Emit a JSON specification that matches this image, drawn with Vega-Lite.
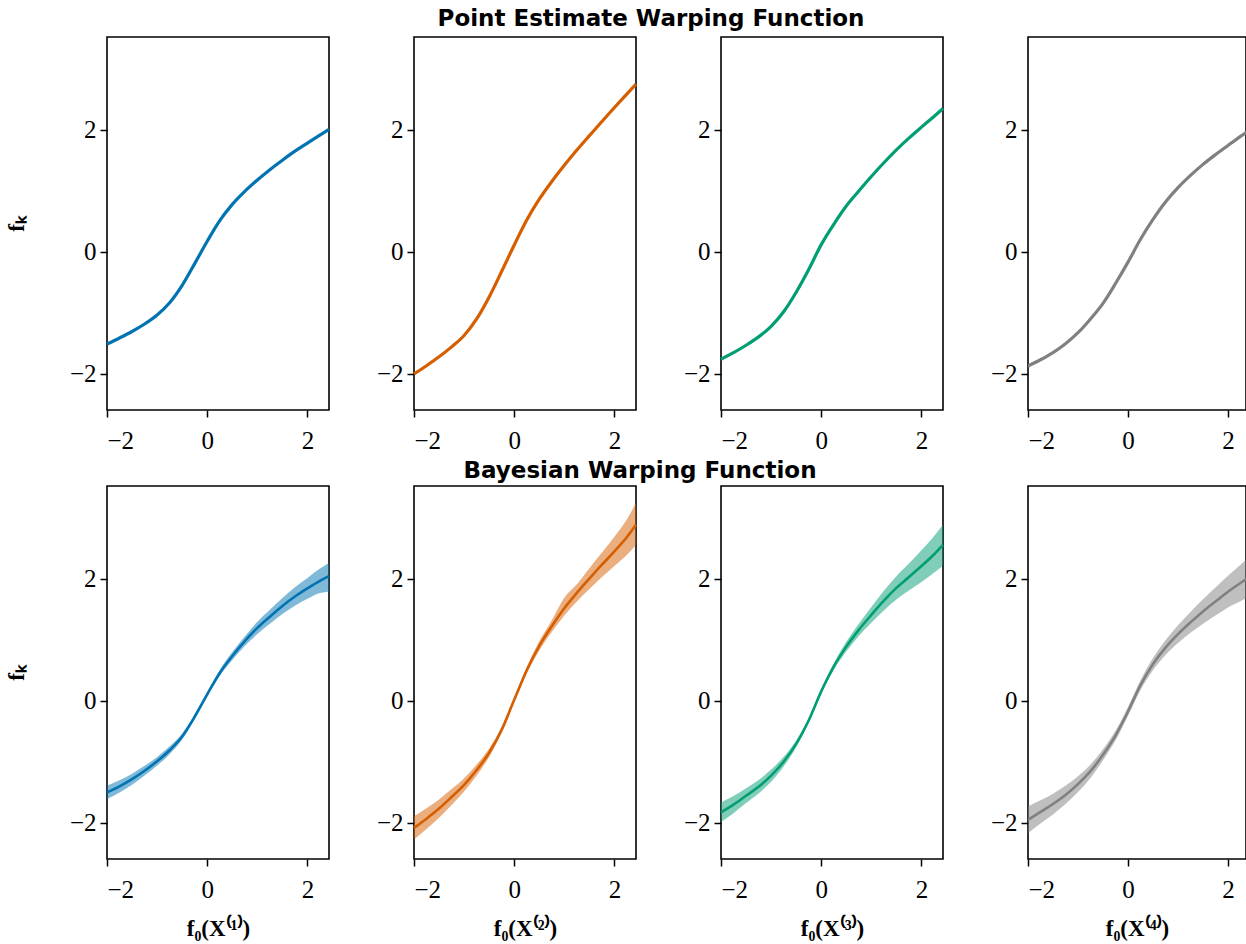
{
  "$schema": "https://vega.github.io/schema/vega-lite/v6.json",
  "background": "white",
  "padding": {"left": 4, "top": 7, "right": 0, "bottom": 0},
  "autosize": {"type": "pad"},
  "columns": 4,
  "spacing": {"row": 76, "column": 85},
  "bounds": "flush",
  "config": {
    "view": {"stroke": "black", "strokeWidth": 1.6},
    "axis": {
      "domain": false, "grid": false,
      "tickColor": "black", "tickWidth": 1.5, "tickSize": 7,
      "labelFont": "Liberation Serif", "labelFontSize": 25, "labelColor": "black",
      "titleFont": "Liberation Serif", "titleFontSize": 23, "titleFontWeight": "bold", "titleColor": "black"
    },
    "axisX": {"labelPadding": 11, "titlePadding": 15},
    "axisY": {"labelPadding": 4, "titlePadding": 41},
    "title": {"font": "DejaVu Sans", "fontSize": 23, "fontWeight": "bold", "color": "black"}
  },
  "datasets": {
    "point": [
      {"k": 1, "x": -2.0, "y": -1.51}, {"k": 1, "x": -1.75, "y": -1.411}, {"k": 1, "x": -1.5, "y": -1.305},
      {"k": 1, "x": -1.25, "y": -1.183}, {"k": 1, "x": -1.0, "y": -1.035}, {"k": 1, "x": -0.75, "y": -0.835},
      {"k": 1, "x": -0.5, "y": -0.55}, {"k": 1, "x": -0.25, "y": -0.194}, {"k": 1, "x": 0.0, "y": 0.172},
      {"k": 1, "x": 0.25, "y": 0.509}, {"k": 1, "x": 0.5, "y": 0.776}, {"k": 1, "x": 0.75, "y": 0.989},
      {"k": 1, "x": 1.0, "y": 1.174}, {"k": 1, "x": 1.25, "y": 1.344}, {"k": 1, "x": 1.5, "y": 1.499},
      {"k": 1, "x": 1.75, "y": 1.646}, {"k": 1, "x": 2.0, "y": 1.779}, {"k": 1, "x": 2.2, "y": 1.885},
      {"k": 1, "x": 2.43, "y": 2.003},

      {"k": 2, "x": -2.0, "y": -2.0}, {"k": 2, "x": -1.75, "y": -1.865}, {"k": 2, "x": -1.5, "y": -1.72},
      {"k": 2, "x": -1.25, "y": -1.557}, {"k": 2, "x": -1.0, "y": -1.37}, {"k": 2, "x": -0.75, "y": -1.1},
      {"k": 2, "x": -0.5, "y": -0.74}, {"k": 2, "x": -0.25, "y": -0.32}, {"k": 2, "x": 0.0, "y": 0.11},
      {"k": 2, "x": 0.25, "y": 0.52}, {"k": 2, "x": 0.5, "y": 0.86}, {"k": 2, "x": 0.75, "y": 1.15},
      {"k": 2, "x": 1.0, "y": 1.415}, {"k": 2, "x": 1.25, "y": 1.665}, {"k": 2, "x": 1.5, "y": 1.9},
      {"k": 2, "x": 1.75, "y": 2.133}, {"k": 2, "x": 2.0, "y": 2.362}, {"k": 2, "x": 2.25, "y": 2.585},
      {"k": 2, "x": 2.43, "y": 2.742},

      {"k": 3, "x": -2.0, "y": -1.76}, {"k": 3, "x": -1.75, "y": -1.652}, {"k": 3, "x": -1.5, "y": -1.53},
      {"k": 3, "x": -1.25, "y": -1.393}, {"k": 3, "x": -1.0, "y": -1.22}, {"k": 3, "x": -0.75, "y": -0.982},
      {"k": 3, "x": -0.5, "y": -0.662}, {"k": 3, "x": -0.25, "y": -0.29}, {"k": 3, "x": 0.0, "y": 0.117},
      {"k": 3, "x": 0.25, "y": 0.45}, {"k": 3, "x": 0.5, "y": 0.75}, {"k": 3, "x": 0.75, "y": 0.995},
      {"k": 3, "x": 1.0, "y": 1.232}, {"k": 3, "x": 1.25, "y": 1.457}, {"k": 3, "x": 1.5, "y": 1.668},
      {"k": 3, "x": 1.75, "y": 1.86}, {"k": 3, "x": 2.0, "y": 2.04}, {"k": 3, "x": 2.25, "y": 2.215},
      {"k": 3, "x": 2.43, "y": 2.345},

      {"k": 4, "x": -2.0, "y": -1.87}, {"k": 4, "x": -1.75, "y": -1.768}, {"k": 4, "x": -1.5, "y": -1.65},
      {"k": 4, "x": -1.25, "y": -1.505}, {"k": 4, "x": -1.0, "y": -1.325}, {"k": 4, "x": -0.75, "y": -1.1},
      {"k": 4, "x": -0.5, "y": -0.845}, {"k": 4, "x": -0.25, "y": -0.52}, {"k": 4, "x": 0.0, "y": -0.17},
      {"k": 4, "x": 0.25, "y": 0.205}, {"k": 4, "x": 0.5, "y": 0.53}, {"k": 4, "x": 0.75, "y": 0.815},
      {"k": 4, "x": 1.0, "y": 1.05}, {"k": 4, "x": 1.25, "y": 1.25}, {"k": 4, "x": 1.5, "y": 1.43},
      {"k": 4, "x": 1.75, "y": 1.59}, {"k": 4, "x": 2.0, "y": 1.74}, {"k": 4, "x": 2.25, "y": 1.888},
      {"k": 4, "x": 2.43, "y": 1.99}
    ],
    "bayes": [
      {"k": 1, "x": -2.0, "m": -1.5, "lo": -1.61, "hi": -1.39},
      {"k": 1, "x": -1.75, "m": -1.4, "lo": -1.5, "hi": -1.3},
      {"k": 1, "x": -1.5, "m": -1.283, "lo": -1.373, "hi": -1.193},
      {"k": 1, "x": -1.25, "m": -1.145, "lo": -1.225, "hi": -1.065},
      {"k": 1, "x": -1.0, "m": -0.99, "lo": -1.06, "hi": -0.92},
      {"k": 1, "x": -0.75, "m": -0.81, "lo": -0.875, "hi": -0.745},
      {"k": 1, "x": -0.5, "m": -0.585, "lo": -0.635, "hi": -0.535},
      {"k": 1, "x": -0.25, "m": -0.262, "lo": -0.302, "hi": -0.222},
      {"k": 1, "x": 0.0, "m": 0.105, "lo": 0.065, "hi": 0.145},
      {"k": 1, "x": 0.25, "m": 0.455, "lo": 0.405, "hi": 0.505},
      {"k": 1, "x": 0.5, "m": 0.732, "lo": 0.667, "hi": 0.797},
      {"k": 1, "x": 0.75, "m": 0.975, "lo": 0.895, "hi": 1.055},
      {"k": 1, "x": 1.0, "m": 1.193, "lo": 1.093, "hi": 1.293},
      {"k": 1, "x": 1.25, "m": 1.376, "lo": 1.261, "hi": 1.491},
      {"k": 1, "x": 1.5, "m": 1.551, "lo": 1.421, "hi": 1.681},
      {"k": 1, "x": 1.75, "m": 1.706, "lo": 1.556, "hi": 1.856},
      {"k": 1, "x": 2.0, "m": 1.839, "lo": 1.669, "hi": 2.009},
      {"k": 1, "x": 2.25, "m": 1.963, "lo": 1.763, "hi": 2.163},
      {"k": 1, "x": 2.43, "m": 2.04, "lo": 1.79, "hi": 2.26},

      {"k": 2, "x": -2.0, "m": -2.08, "lo": -2.27, "hi": -1.89},
      {"k": 2, "x": -1.75, "m": -1.93, "lo": -2.1, "hi": -1.76},
      {"k": 2, "x": -1.5, "m": -1.765, "lo": -1.915, "hi": -1.615},
      {"k": 2, "x": -1.25, "m": -1.576, "lo": -1.706, "hi": -1.446},
      {"k": 2, "x": -1.0, "m": -1.377, "lo": -1.487, "hi": -1.267},
      {"k": 2, "x": -0.75, "m": -1.134, "lo": -1.224, "hi": -1.044},
      {"k": 2, "x": -0.5, "m": -0.85, "lo": -0.92, "hi": -0.78},
      {"k": 2, "x": -0.25, "m": -0.475, "lo": -0.525, "hi": -0.425},
      {"k": 2, "x": 0.0, "m": 0.015, "lo": -0.025, "hi": 0.055},
      {"k": 2, "x": 0.25, "m": 0.499, "lo": 0.444, "hi": 0.554},
      {"k": 2, "x": 0.5, "m": 0.898, "lo": 0.823, "hi": 0.973},
      {"k": 2, "x": 0.75, "m": 1.221, "lo": 1.126, "hi": 1.316},
      {"k": 2, "x": 1.0, "m": 1.515, "lo": 1.395, "hi": 1.685},
      {"k": 2, "x": 1.25, "m": 1.766, "lo": 1.626, "hi": 1.906},
      {"k": 2, "x": 1.5, "m": 2.0, "lo": 1.83, "hi": 2.17},
      {"k": 2, "x": 1.75, "m": 2.227, "lo": 2.027, "hi": 2.427},
      {"k": 2, "x": 2.0, "m": 2.445, "lo": 2.205, "hi": 2.685},
      {"k": 2, "x": 2.25, "m": 2.68, "lo": 2.39, "hi": 2.97},
      {"k": 2, "x": 2.43, "m": 2.88, "lo": 2.55, "hi": 3.24},

      {"k": 3, "x": -2.0, "m": -1.826, "lo": -1.986, "hi": -1.666},
      {"k": 3, "x": -1.75, "m": -1.7, "lo": -1.84, "hi": -1.56},
      {"k": 3, "x": -1.5, "m": -1.554, "lo": -1.674, "hi": -1.434},
      {"k": 3, "x": -1.25, "m": -1.408, "lo": -1.518, "hi": -1.298},
      {"k": 3, "x": -1.0, "m": -1.226, "lo": -1.326, "hi": -1.126},
      {"k": 3, "x": -0.75, "m": -0.998, "lo": -1.078, "hi": -0.918},
      {"k": 3, "x": -0.5, "m": -0.705, "lo": -0.76, "hi": -0.65},
      {"k": 3, "x": -0.25, "m": -0.323, "lo": -0.363, "hi": -0.283},
      {"k": 3, "x": 0.0, "m": 0.154, "lo": 0.114, "hi": 0.194},
      {"k": 3, "x": 0.25, "m": 0.56, "lo": 0.505, "hi": 0.615},
      {"k": 3, "x": 0.5, "m": 0.886, "lo": 0.806, "hi": 0.966},
      {"k": 3, "x": 0.75, "m": 1.161, "lo": 1.061, "hi": 1.261},
      {"k": 3, "x": 1.0, "m": 1.406, "lo": 1.276, "hi": 1.536},
      {"k": 3, "x": 1.25, "m": 1.639, "lo": 1.479, "hi": 1.799},
      {"k": 3, "x": 1.5, "m": 1.848, "lo": 1.658, "hi": 2.038},
      {"k": 3, "x": 1.75, "m": 2.025, "lo": 1.805, "hi": 2.245},
      {"k": 3, "x": 2.0, "m": 2.205, "lo": 1.945, "hi": 2.465},
      {"k": 3, "x": 2.25, "m": 2.394, "lo": 2.094, "hi": 2.694},
      {"k": 3, "x": 2.43, "m": 2.55, "lo": 2.21, "hi": 2.88},

      {"k": 4, "x": -2.0, "m": -1.95, "lo": -2.17, "hi": -1.73},
      {"k": 4, "x": -1.75, "m": -1.82, "lo": -2.01, "hi": -1.63},
      {"k": 4, "x": -1.5, "m": -1.69, "lo": -1.86, "hi": -1.52},
      {"k": 4, "x": -1.25, "m": -1.541, "lo": -1.691, "hi": -1.391},
      {"k": 4, "x": -1.0, "m": -1.364, "lo": -1.494, "hi": -1.234},
      {"k": 4, "x": -0.75, "m": -1.153, "lo": -1.263, "hi": -1.043},
      {"k": 4, "x": -0.5, "m": -0.884, "lo": -0.974, "hi": -0.794},
      {"k": 4, "x": -0.25, "m": -0.57, "lo": -0.65, "hi": -0.49},
      {"k": 4, "x": 0.0, "m": -0.176, "lo": -0.251, "hi": -0.101},
      {"k": 4, "x": 0.25, "m": 0.257, "lo": 0.177, "hi": 0.337},
      {"k": 4, "x": 0.5, "m": 0.6, "lo": 0.5, "hi": 0.7},
      {"k": 4, "x": 0.75, "m": 0.87, "lo": 0.75, "hi": 0.99},
      {"k": 4, "x": 1.0, "m": 1.091, "lo": 0.946, "hi": 1.236},
      {"k": 4, "x": 1.25, "m": 1.283, "lo": 1.113, "hi": 1.453},
      {"k": 4, "x": 1.5, "m": 1.462, "lo": 1.262, "hi": 1.662},
      {"k": 4, "x": 1.75, "m": 1.624, "lo": 1.394, "hi": 1.854},
      {"k": 4, "x": 2.0, "m": 1.785, "lo": 1.525, "hi": 2.045},
      {"k": 4, "x": 2.25, "m": 1.927, "lo": 1.627, "hi": 2.227},
      {"k": 4, "x": 2.43, "m": 2.03, "lo": 1.71, "hi": 2.35}
    ]
  },
  "concat": [
    {
      "width": 222, "height": 373,
      "data": {"name": "point"},
      "transform": [{"filter": "datum.k == 1"}],
      "mark": {"type": "line", "color": "#0173b2", "strokeWidth": 3.2, "interpolate": "monotone"},
      "encoding": {
        "x": {"field": "x", "type": "quantitative", "scale": {"domain": [-2, 2.43], "nice": false, "zero": false}, "axis": {"values": [-2, 0, 2], "title": null}},
        "y": {"field": "y", "type": "quantitative", "scale": {"domain": [-2.59, 3.515], "nice": false, "zero": false}, "axis": {"values": [-2, 0, 2], "title": "fₖ"}}
      }
    },
    {
      "width": 222, "height": 373,
      "title": {"text": "Point Estimate Warping Function", "anchor": "middle", "frame": "group", "dx": 126, "baseline": "alphabetic", "offset": -12},
      "data": {"name": "point"},
      "transform": [{"filter": "datum.k == 2"}],
      "mark": {"type": "line", "color": "#d55e00", "strokeWidth": 3.2, "interpolate": "monotone"},
      "encoding": {
        "x": {"field": "x", "type": "quantitative", "scale": {"domain": [-2, 2.43], "nice": false, "zero": false}, "axis": {"values": [-2, 0, 2], "title": null}},
        "y": {"field": "y", "type": "quantitative", "scale": {"domain": [-2.59, 3.515], "nice": false, "zero": false}, "axis": {"values": [-2, 0, 2], "title": null}}
      }
    },
    {
      "width": 222, "height": 373,
      "data": {"name": "point"},
      "transform": [{"filter": "datum.k == 3"}],
      "mark": {"type": "line", "color": "#029e73", "strokeWidth": 3.2, "interpolate": "monotone"},
      "encoding": {
        "x": {"field": "x", "type": "quantitative", "scale": {"domain": [-2, 2.43], "nice": false, "zero": false}, "axis": {"values": [-2, 0, 2], "title": null}},
        "y": {"field": "y", "type": "quantitative", "scale": {"domain": [-2.59, 3.515], "nice": false, "zero": false}, "axis": {"values": [-2, 0, 2], "title": null}}
      }
    },
    {
      "width": 218, "height": 373,
      "data": {"name": "point"},
      "transform": [{"filter": "datum.k == 4"}],
      "mark": {"type": "line", "color": "#808080", "strokeWidth": 3.2, "interpolate": "monotone", "clip": true},
      "encoding": {
        "x": {"field": "x", "type": "quantitative", "scale": {"domain": [-2, 2.36], "nice": false, "zero": false}, "axis": {"values": [-2, 0, 2], "title": null}},
        "y": {"field": "y", "type": "quantitative", "scale": {"domain": [-2.59, 3.515], "nice": false, "zero": false}, "axis": {"values": [-2, 0, 2], "title": null}}
      }
    },
    {
      "width": 222, "height": 373,
      "data": {"name": "bayes"},
      "transform": [{"filter": "datum.k == 1"}],
      "encoding": {
        "x": {"field": "x", "type": "quantitative", "scale": {"domain": [-2, 2.43], "nice": false, "zero": false}, "axis": {"values": [-2, 0, 2], "title": "f₀(X⁽¹⁾)"}}
      },
      "layer": [
        {"mark": {"type": "area", "color": "#0173b2", "opacity": 0.5, "interpolate": "monotone"},
         "encoding": {"y": {"field": "lo", "type": "quantitative", "scale": {"domain": [-2.59, 3.515], "nice": false, "zero": false}, "axis": {"values": [-2, 0, 2], "title": "fₖ"}}, "y2": {"field": "hi"}}},
        {"mark": {"type": "line", "color": "#0173b2", "strokeWidth": 2.6, "interpolate": "monotone"},
         "encoding": {"y": {"field": "m", "type": "quantitative", "axis": {"values": [-2, 0, 2], "title": "fₖ"}}}}
      ]
    },
    {
      "width": 222, "height": 373,
      "title": {"text": "Bayesian Warping Function", "anchor": "middle", "frame": "group", "dx": 115, "baseline": "alphabetic", "offset": -15},
      "data": {"name": "bayes"},
      "transform": [{"filter": "datum.k == 2"}],
      "encoding": {
        "x": {"field": "x", "type": "quantitative", "scale": {"domain": [-2, 2.43], "nice": false, "zero": false}, "axis": {"values": [-2, 0, 2], "title": "f₀(X⁽²⁾)"}}
      },
      "layer": [
        {"mark": {"type": "area", "color": "#d55e00", "opacity": 0.5, "interpolate": "monotone"},
         "encoding": {"y": {"field": "lo", "type": "quantitative", "scale": {"domain": [-2.59, 3.515], "nice": false, "zero": false}, "axis": {"values": [-2, 0, 2], "title": null}}, "y2": {"field": "hi"}}},
        {"mark": {"type": "line", "color": "#d55e00", "strokeWidth": 2.6, "interpolate": "monotone"},
         "encoding": {"y": {"field": "m", "type": "quantitative", "axis": {"values": [-2, 0, 2], "title": null}}}}
      ]
    },
    {
      "width": 222, "height": 373,
      "data": {"name": "bayes"},
      "transform": [{"filter": "datum.k == 3"}],
      "encoding": {
        "x": {"field": "x", "type": "quantitative", "scale": {"domain": [-2, 2.43], "nice": false, "zero": false}, "axis": {"values": [-2, 0, 2], "title": "f₀(X⁽³⁾)"}}
      },
      "layer": [
        {"mark": {"type": "area", "color": "#029e73", "opacity": 0.5, "interpolate": "monotone"},
         "encoding": {"y": {"field": "lo", "type": "quantitative", "scale": {"domain": [-2.59, 3.515], "nice": false, "zero": false}, "axis": {"values": [-2, 0, 2], "title": null}}, "y2": {"field": "hi"}}},
        {"mark": {"type": "line", "color": "#029e73", "strokeWidth": 2.6, "interpolate": "monotone"},
         "encoding": {"y": {"field": "m", "type": "quantitative", "axis": {"values": [-2, 0, 2], "title": null}}}}
      ]
    },
    {
      "width": 218, "height": 373,
      "data": {"name": "bayes"},
      "transform": [{"filter": "datum.k == 4"}],
      "encoding": {
        "x": {"field": "x", "type": "quantitative", "scale": {"domain": [-2, 2.36], "nice": false, "zero": false}, "axis": {"values": [-2, 0, 2], "title": "f₀(X⁽⁴⁾)"}}
      },
      "layer": [
        {"mark": {"type": "area", "color": "#808080", "opacity": 0.5, "interpolate": "monotone", "clip": true},
         "encoding": {"y": {"field": "lo", "type": "quantitative", "scale": {"domain": [-2.59, 3.515], "nice": false, "zero": false}, "axis": {"values": [-2, 0, 2], "title": null}}, "y2": {"field": "hi"}}},
        {"mark": {"type": "line", "color": "#808080", "strokeWidth": 2.6, "interpolate": "monotone", "clip": true},
         "encoding": {"y": {"field": "m", "type": "quantitative", "axis": {"values": [-2, 0, 2], "title": null}}}}
      ]
    }
  ]
}
